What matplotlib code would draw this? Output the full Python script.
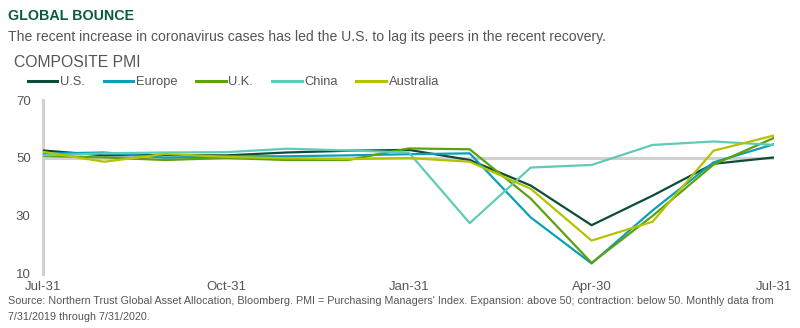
import matplotlib.pyplot as plt

# monthly composite PMI, 7/31/2019 - 7/31/2020
months = list(range(13))
tick_pos = [0, 3, 6, 9, 12]
tick_labels = ['Jul-31', 'Oct-31', 'Jan-31', 'Apr-30', 'Jul-31']
y_ticks = [10, 30, 50, 70]

us = [52.6, 50.9, 51.0, 50.9, 51.9, 52.5, 52.8, 49.3, 40.5, 26.8, 37.0, 48.0, 50.2]
europe = [51.5, 51.9, 50.1, 50.6, 50.6, 50.9, 51.3, 51.6, 29.5, 13.6, 31.9, 48.5, 54.8]
uk = [50.7, 50.2, 49.3, 50.0, 49.3, 49.3, 53.3, 53.0, 36.0, 13.8, 30.0, 47.7, 57.0]
china = [50.9, 51.6, 51.9, 52.0, 53.2, 52.6, 51.9, 27.5, 46.7, 47.6, 54.5, 55.7, 54.5]
australia = [52.1, 48.7, 51.4, 50.4, 49.9, 49.6, 50.0, 48.7, 39.4, 21.5, 28.0, 52.5, 57.8]

series = [
    ('U.S.', us, '#0b4d3a'),
    ('Europe', europe, '#0aa0b8'),
    ('U.K.', uk, '#5ca10e'),
    ('China', china, '#5fcab6'),
    ('Australia', australia, '#b4c300'),
]

plt.rcParams['font.family'] = ['Liberation Sans', 'DejaVu Sans']
grey = '#555555'

fig = plt.figure(figsize=(8, 3.28), dpi=100)
ax = fig.add_axes([0.054, 0.165, 0.914, 0.53])

ax.axhline(50, color='#d0d0d0', lw=2.2, zorder=1)
for name, vals, col in series:
    ax.plot(months, vals, color=col, lw=1.6, label=name, zorder=3)

ax.set_xlim(0, 12)
ax.set_ylim(10, 70)
ax.set_yticks(y_ticks)
ax.set_xticks(tick_pos)
ax.set_xticklabels(tick_labels)
ax.tick_params(axis='x', length=0, labelsize=9.5, labelcolor=grey, pad=5)
ax.tick_params(axis='y', length=0, labelsize=9.5, labelcolor=grey, pad=9)
for s in ['top', 'right', 'bottom']:
    ax.spines[s].set_visible(False)
ax.spines['left'].set_color('#d0d0d0')
ax.spines['left'].set_linewidth(2.2)

fig.text(0.01, 0.94, 'GLOBAL BOUNCE', fontsize=10.3, fontweight='bold', color='#0b5a3e')
fig.text(0.01, 0.875, 'The recent increase in coronavirus cases has led the U.S. to lag its peers in the recent recovery.',
         fontsize=10.1, color=grey)
fig.text(0.018, 0.797, 'COMPOSITE PMI', fontsize=11.3, color=grey)

leg = fig.legend(loc='upper left', bbox_to_anchor=(0.02, 0.803), ncol=5, frameon=False,
                 handlelength=2.3, handletextpad=0.2, columnspacing=1.45, fontsize=9.3,
                 labelcolor=grey)
for h in leg.legend_handles:
    h.set_linewidth(2.2)

fig.text(0.01, 0.072, "Source: Northern Trust Global Asset Allocation, Bloomberg. PMI = Purchasing Managers' Index. "
         "Expansion: above 50; contraction: below 50. Monthly data from", fontsize=7.75, color=grey)
fig.text(0.01, 0.025, '7/31/2019 through 7/31/2020.', fontsize=7.75, color=grey)

fig.savefig('out.png', dpi=100)
